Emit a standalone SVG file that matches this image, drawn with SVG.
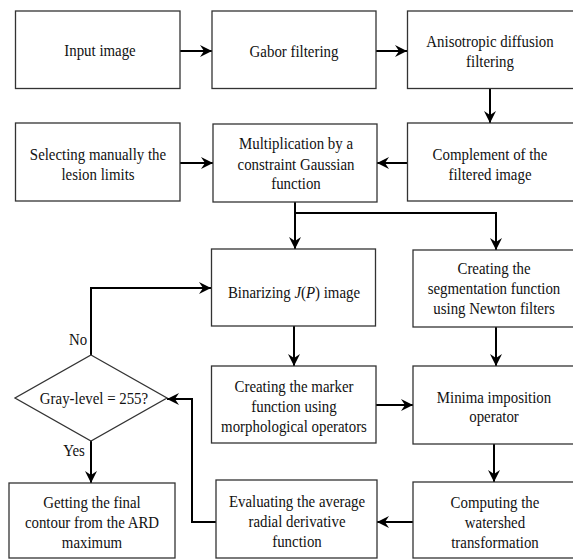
<svg xmlns="http://www.w3.org/2000/svg" width="573" height="559" viewBox="0 0 573 559">
<style>
.box{fill:#fff;stroke:#333;stroke-width:1.3}
.t{font-family:"Liberation Serif","DejaVu Serif",serif;font-size:17.5px;fill:#111;text-anchor:middle}
.c{fill:none;stroke:#000;stroke-width:2}
</style>
<defs>
<marker id="ah" viewBox="0 0 12 12" refX="12" refY="6" markerWidth="12" markerHeight="12" markerUnits="userSpaceOnUse" orient="auto">
<path d="M0,0 L12,6 L0,12 L4,6 Z" fill="#000"/>
</marker>
</defs>
<rect width="573" height="559" fill="#fff"/>
<g id="connectors">
<path class="c" marker-end="url(#ah)" d="M180,51 H212"/>
<path class="c" marker-end="url(#ah)" d="M376,51 H407"/>
<path class="c" marker-end="url(#ah)" d="M490,88 V123"/>
<path class="c" marker-end="url(#ah)" d="M180,163 H213"/>
<path class="c" marker-end="url(#ah)" d="M407,163 H377"/>
<path class="c" marker-end="url(#ah)" d="M295,202 V249"/>
<path class="c" marker-end="url(#ah)" d="M295,213 H496 V250"/>
<path class="c" marker-end="url(#ah)" d="M294,326 V366"/>
<path class="c" marker-end="url(#ah)" d="M496,327 V366"/>
<path class="c" marker-end="url(#ah)" d="M376,405 H413"/>
<path class="c" marker-end="url(#ah)" d="M494,444 V482"/>
<path class="c" marker-end="url(#ah)" d="M413,522 H377"/>
<path class="c" marker-end="url(#ah)" d="M216,522 H192 V399 H167"/>
<path class="c" marker-end="url(#ah)" d="M91,355 V288 H211"/>
<path class="c" marker-end="url(#ah)" d="M91,441 V483"/>
<text class="t" transform="translate(78 0) scale(0.85 1)" y="345">No</text>
<text class="t" transform="translate(74 0) scale(0.85 1)" y="456">Yes</text>
</g>
<g id="input">
<rect class="box" x="15.5" y="11" width="164.5" height="77.5"/>
<text class="t" transform="translate(100 0) scale(0.85 1)" y="56">Input image</text>
</g>
<g id="gabor">
<rect class="box" x="212" y="11" width="164" height="77.5"/>
<text class="t" transform="translate(294 0) scale(0.85 1)" y="57">Gabor filtering</text>
</g>
<g id="aniso">
<rect class="box" x="407.5" y="11" width="170" height="77.5"/>
<text class="t" transform="translate(490 0) scale(0.85 1)" y="47">Anisotropic diffusion</text>
<text class="t" transform="translate(490 0) scale(0.85 1)" y="67">filtering</text>
</g>
<g id="selecting">
<rect class="box" x="15.5" y="123" width="164.5" height="78"/>
<text class="t" transform="translate(98 0) scale(0.85 1)" y="160">Selecting manually the</text>
<text class="t" transform="translate(98 0) scale(0.85 1)" y="180">lesion limits</text>
</g>
<g id="multiplication">
<rect class="box" x="213" y="124" width="164" height="78"/>
<text class="t" transform="translate(296 0) scale(0.85 1)" y="149">Multiplication by a</text>
<text class="t" transform="translate(296 0) scale(0.85 1)" y="170">constraint Gaussian</text>
<text class="t" transform="translate(296 0) scale(0.85 1)" y="189">function</text>
</g>
<g id="complement">
<rect class="box" x="407.5" y="123" width="170" height="78"/>
<text class="t" transform="translate(490 0) scale(0.85 1)" y="160">Complement of the</text>
<text class="t" transform="translate(490 0) scale(0.85 1)" y="180">filtered image</text>
</g>
<g id="binarizing">
<rect class="box" x="211.5" y="249" width="164" height="77"/>
<text class="t" transform="translate(294 0) scale(0.85 1)" y="298">Binarizing <tspan font-style="italic">J</tspan>(<tspan font-style="italic">P</tspan>) image</text>
</g>
<g id="segmentation">
<rect class="box" x="413" y="250" width="165" height="77"/>
<text class="t" transform="translate(494 0) scale(0.85 1)" y="274">Creating the</text>
<text class="t" transform="translate(494 0) scale(0.85 1)" y="294.5">segmentation function</text>
<text class="t" transform="translate(494 0) scale(0.85 1)" y="314">using Newton filters</text>
</g>
<g id="decision">
<polygon class="box" points="91,355 167,398 91,441 15,398"/>
<text class="t" transform="translate(94 0) scale(0.85 1)" y="404">Gray-level = 255?</text>
</g>
<g id="marker">
<rect class="box" x="211.5" y="366" width="164.5" height="77"/>
<text class="t" transform="translate(294 0) scale(0.85 1)" y="392">Creating the marker</text>
<text class="t" transform="translate(294 0) scale(0.85 1)" y="412">function using</text>
<text class="t" transform="translate(294 0) scale(0.85 1)" y="432">morphological operators</text>
</g>
<g id="minima">
<rect class="box" x="413" y="366" width="165" height="78"/>
<text class="t" transform="translate(494 0) scale(0.85 1)" y="403">Minima imposition</text>
<text class="t" transform="translate(494 0) scale(0.85 1)" y="422">operator</text>
</g>
<g id="getting">
<rect class="box" x="9" y="483" width="166" height="75"/>
<text class="t" transform="translate(92 0) scale(0.85 1)" y="508">Getting the final</text>
<text class="t" transform="translate(92 0) scale(0.85 1)" y="528">contour from the ARD</text>
<text class="t" transform="translate(92 0) scale(0.85 1)" y="548">maximum</text>
</g>
<g id="evaluating">
<rect class="box" x="216" y="480" width="161" height="78"/>
<text class="t" transform="translate(297 0) scale(0.85 1)" y="507">Evaluating the average</text>
<text class="t" transform="translate(297 0) scale(0.85 1)" y="527">radial derivative</text>
<text class="t" transform="translate(297 0) scale(0.85 1)" y="547">function</text>
</g>
<g id="computing">
<rect class="box" x="413" y="482" width="165" height="76"/>
<text class="t" transform="translate(495 0) scale(0.85 1)" y="508">Computing the</text>
<text class="t" transform="translate(495 0) scale(0.85 1)" y="528">watershed</text>
<text class="t" transform="translate(495 0) scale(0.85 1)" y="548">transformation</text>
</g>
</svg>
